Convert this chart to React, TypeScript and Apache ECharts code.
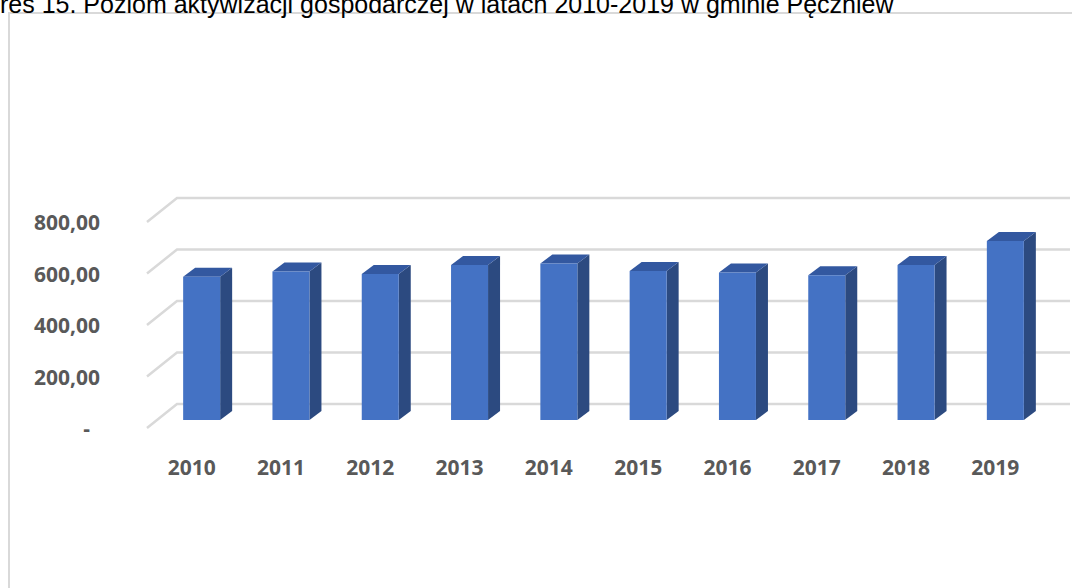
import React, { useEffect, useRef } from "react";
import * as echarts from "echarts";

const titleText = "res 15. Poziom aktywizacji gospodarczej w latach 2010-2019 w gminie Pęczniew";
const years = ["2010", "2011", "2012", "2013", "2014", "2015", "2016", "2017", "2018", "2019"];
const values = [556, 577, 567, 602, 608, 579, 573, 562, 602, 695];
const yTicks = [0, 200, 400, 600, 800];

const FRONT = "#4472C4";
const SIDE = "#2C4A80";
const TOP = "#3358A0";
const GRID = "#D9D9D9";
const LABEL = "#595959";

export default function App() {
  const ref = useRef<HTMLDivElement>(null);
  useEffect(() => {
    if (!ref.current) return;
    const chart = echarts.init(ref.current, null, { renderer: "svg" });
    const labelFont = "'Open Sans', sans-serif";
    chart.setOption({
      animation: false,
      backgroundColor: "#ffffff",
      grid: { left: 147, right: 32, top: 222, bottom: 160 },
      xAxis: {
        type: "category",
        data: years,
        axisLine: { show: false },
        axisTick: { show: false },
        axisLabel: {
          margin: 28,
          color: LABEL,
          fontWeight: "bold",
          fontSize: 21,
          fontFamily: labelFont,
        },
      },
      yAxis: {
        type: "value",
        min: 0,
        max: 800,
        interval: 200,
        axisLine: { show: false },
        axisTick: { show: false },
        splitLine: { show: false },
        axisLabel: {
          margin: 47,
          color: LABEL,
          fontWeight: "bold",
          fontSize: 21,
          fontFamily: labelFont,
          formatter: (v: number) =>
            v === 0 ? "{d|-}" : v.toFixed(2).replace(".", ","),
          rich: {
            d: {
              color: LABEL,
              fontWeight: "bold",
              fontSize: 21,
              fontFamily: labelFont,
              padding: [0, 10, 0, 0],
            },
          },
        },
      },
      graphic: [
        {
          type: "rect",
          shape: { x: 9, y: 13, width: 1200, height: 700 },
          style: { fill: "none", stroke: GRID, lineWidth: 2 },
          z: 0,
        },
        {
          type: "text",
          x: 0,
          y: 16,
          style: {
            text: titleText,
            fontFamily: "'Liberation Sans', Arial, sans-serif",
            fontSize: 25,
            fill: "#000000",
            verticalAlign: "bottom",
            align: "left",
          },
          z: 10,
        },
      ],
      series: [
        {
          type: "custom",
          coordinateSystem: "cartesian2d",
          clip: false,
          z: 1,
          data: yTicks.map((t) => [0, t]),
          renderItem: (params: any, api: any) => {
            const cs = params.coordSys;
            const y = api.coord([0, api.value(1)])[1];
            return {
              type: "polyline",
              shape: {
                points: [
                  [cs.x, y],
                  [cs.x + 30, y - 24],
                  [cs.x + cs.width + 30, y - 24],
                ],
              },
              style: { stroke: GRID, lineWidth: 2.5, fill: "none" },
              silent: true,
            };
          },
        },
        {
          type: "custom",
          coordinateSystem: "cartesian2d",
          clip: false,
          z: 5,
          data: values.map((v, i) => [i, v]),
          renderItem: (params: any, api: any) => {
            const i = api.value(0);
            const v = api.value(1);
            const base = api.coord([i, 0]);
            const top = api.coord([i, v]);
            const bw = 37;
            const dx = 10;
            const dy = -8;
            const sdx = 12;
            const sdy = -9;
            const x0 = base[0] + dx - bw / 2;
            const x1 = x0 + bw;
            const yb = base[1] + dy;
            const yt = top[1] + dy;
            return {
              type: "group",
              children: [
                {
                  type: "polygon",
                  shape: {
                    points: [
                      [x1, yt],
                      [x1 + sdx, yt + sdy],
                      [x1 + sdx, yb + sdy],
                      [x1, yb],
                    ],
                  },
                  style: { fill: SIDE },
                },
                {
                  type: "polygon",
                  shape: {
                    points: [
                      [x0, yt],
                      [x0 + sdx, yt + sdy],
                      [x1 + sdx, yt + sdy],
                      [x1, yt],
                    ],
                  },
                  style: { fill: TOP },
                },
                {
                  type: "rect",
                  shape: { x: x0, y: yt, width: bw, height: yb - yt },
                  style: { fill: FRONT },
                },
              ],
            };
          },
        },
      ],
    });
    return () => chart.dispose();
  }, []);
  return (
    <div
      ref={ref}
      style={{ position: "fixed", left: 0, top: 0, width: 1072, height: 588, background: "#fff" }}
    />
  );
}
